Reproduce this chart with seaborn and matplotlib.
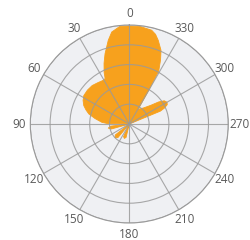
import numpy as np
import pandas as pd
import matplotlib
matplotlib.use("Agg")
import matplotlib.pyplot as plt
import seaborn as sns

# outline of the filled area (degrees ccw from north)
theta_deg = [0, 5.4, 10.8, 14.1, 19, 22.6, 26, 28, 31, 37, 44, 51, 58, 63, 68, 72, 76, 81, 86.6, 88.5, 89.5,
             96, 96.5, 101, 105.5, 106,
             127, 128, 134, 140, 141,
             155, 155.5, 161, 166.5, 167,
             291, 292.5, 294.4, 297, 300, 303.6, 307, 311, 318, 324, 329,
             330, 331, 334, 336.7, 340.9, 343.7, 346.6, 353.8, 360]
radius = [4.95, 4.96, 4.73, 4.36, 3.76, 3.32, 2.9, 2.6, 2.57, 2.62, 2.70, 2.72, 2.71, 2.62, 2.48, 2.3, 2.11, 1.75, 1.38, 1.13, 0,
          0, 0.95, 1.08, 0.95, 0,
          0, 0.9, 1.0, 0.9, 0,
          0, 0.7, 0.77, 0.7, 0,
          0, 1.7, 1.95, 2.15, 2.2, 2.12, 1.85, 1.44, 1.1, 0.95, 0.88,
          1.9, 3.07, 3.6, 4.05, 4.47, 4.72, 4.87, 4.96, 4.95]

angle_ticks = list(range(0, 360, 30))
angle_labels = [str(a) for a in angle_ticks]
radial_ticks = [1, 2, 3, 4, 5]

sns.set_style("white")
plt.rcParams['font.family'] = ['Open Sans', 'DejaVu Sans']

df = pd.DataFrame({'theta': np.deg2rad(theta_deg), 'r': radius})

fig = plt.figure(figsize=(2.5, 2.4), dpi=100)
ax = fig.add_axes([0.1212, 0.0708, 0.792, 0.825], projection='polar')
ax.set_facecolor('#eff0f3')
ax.set_theta_zero_location('N')
ax.set_theta_direction(1)

orange = '#f7a11d'
ax.fill(df.theta, df.r, color=orange, lw=0, zorder=1)
sns.lineplot(data=df, x='theta', y='r', sort=False, estimator=None, color=orange, lw=0.6, ax=ax, zorder=1)

ax.set_ylim(0, 5)
ax.set_yticks(radial_ticks)
ax.set_yticklabels([])
ax.set_xticks(np.deg2rad(angle_ticks))
ax.set_xticklabels(angle_labels)
ax.set_xlabel('')
ax.set_ylabel('')
ax.set_axisbelow(False)
ax.grid(True, color='#9a9a9a', lw=0.8, alpha=0.85, zorder=2)
ax.spines['polar'].set_color('#9a9a9a')
ax.spines['polar'].set_linewidth(0.8)
ax.tick_params(axis='x', pad=-2.5, labelsize=8.5, colors='#5a5a5a')

fig.savefig('out.png', dpi=100)
